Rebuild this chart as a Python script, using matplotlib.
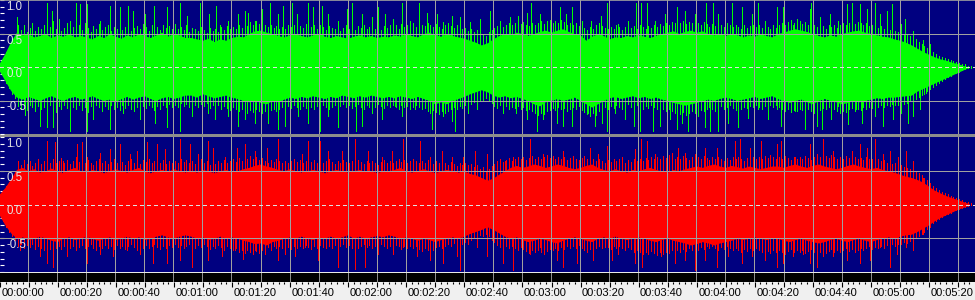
import matplotlib
matplotlib.use("Agg")
import matplotlib.pyplot as plt
import numpy as np
from matplotlib.transforms import blended_transform_factory, offset_copy
from matplotlib.patches import Rectangle

# ---------------- data ----------------
BODY_STEP = 2.0   # seconds between envelope samples of the dense core
PEAK_STEP = 1.0   # seconds between per-second peak readings (values in percent of full scale)

GREEN_BODY_UP = [0.05, 0.2, 0.38,
    0.52, 0.48, 0.5, 0.45, 0.47, 0.5, 0.44, 0.48, 0.46, 0.5, 0.45, 0.47,
    0.45, 0.42, 0.47, 0.44, 0.5, 0.46, 0.43, 0.48, 0.45, 0.5, 0.47, 0.44, 0.48, 0.52, 0.46, 0.5, 0.48, 0.44,
    0.44, 0.42, 0.4, 0.43, 0.38, 0.42, 0.4, 0.44, 0.46, 0.45, 0.5, 0.54, 0.55, 0.52, 0.5, 0.47, 0.45, 0.48,
    0.5, 0.47, 0.45, 0.48, 0.5, 0.46, 0.44, 0.47, 0.45, 0.43, 0.46, 0.48, 0.45, 0.47, 0.44, 0.46,
    0.45, 0.48, 0.46, 0.5, 0.47, 0.45, 0.5, 0.52, 0.48, 0.46, 0.5, 0.47, 0.45, 0.43, 0.4, 0.37, 0.33, 0.36,
    0.42, 0.47, 0.5, 0.48, 0.52, 0.5, 0.47, 0.5, 0.53, 0.55, 0.52, 0.55, 0.57, 0.53, 0.5,
    0.48, 0.4, 0.46, 0.5, 0.47, 0.42, 0.45, 0.44, 0.47, 0.45, 0.48, 0.46, 0.44, 0.47, 0.5, 0.52, 0.54,
    0.5, 0.53, 0.55, 0.52, 0.54, 0.5, 0.48, 0.5, 0.47, 0.5, 0.48, 0.45, 0.48, 0.46, 0.5, 0.47, 0.45,
    0.5, 0.52, 0.55, 0.57, 0.55, 0.53, 0.5, 0.47, 0.45, 0.48, 0.46, 0.5, 0.52, 0.54, 0.55, 0.52, 0.5,
    0.48, 0.46, 0.45, 0.42, 0.4, 0.37, 0.33, 0.28, 0.23, 0.19, 0.15, 0.12, 0.1, 0.07, 0.05, 0.02, 0.0]

GREEN_BODY_DN = [-0.05, -0.2, -0.35,
    -0.45, -0.48, -0.44, -0.47, -0.5, -0.46, -0.43, -0.47, -0.5, -0.46, -0.44, -0.48,
    -0.46, -0.43, -0.47, -0.5, -0.48, -0.52, -0.47, -0.44, -0.48, -0.45, -0.43, -0.47, -0.5, -0.46, -0.44,
    -0.47, -0.45, -0.42,
    -0.42, -0.45, -0.4, -0.43, -0.46, -0.44, -0.42, -0.45, -0.47, -0.5, -0.52, -0.5, -0.53, -0.55, -0.5,
    -0.52, -0.48, -0.45, -0.47, -0.44, -0.46, -0.43, -0.45, -0.47, -0.44, -0.46, -0.42, -0.44, -0.46,
    -0.43, -0.45, -0.42, -0.44, -0.46,
    -0.44, -0.46, -0.43, -0.45, -0.47, -0.44, -0.47, -0.5, -0.55, -0.52, -0.55, -0.5, -0.47, -0.44, -0.4,
    -0.37, -0.34, -0.37, -0.42, -0.45, -0.43, -0.46, -0.44, -0.47, -0.5, -0.55, -0.58, -0.52, -0.5, -0.47,
    -0.5, -0.48, -0.45,
    -0.5, -0.55, -0.6, -0.55, -0.5, -0.46, -0.44, -0.47, -0.45, -0.43, -0.46, -0.44, -0.47, -0.45, -0.48,
    -0.5, -0.53, -0.55, -0.57, -0.55, -0.53, -0.5, -0.48, -0.5, -0.47, -0.45, -0.47, -0.5, -0.48, -0.46,
    -0.44, -0.47, -0.45, -0.43,
    -0.47, -0.5, -0.53, -0.5, -0.48, -0.52, -0.55, -0.5, -0.47, -0.5, -0.52, -0.55, -0.53, -0.5, -0.52,
    -0.5, -0.48, -0.46, -0.47, -0.45, -0.45, -0.44, -0.43, -0.42, -0.36, -0.32, -0.28, -0.24, -0.2, -0.16,
    -0.12, -0.08, -0.04, 0.0]

RED_BODY_UP = [0.15, 0.25, 0.38,
    0.52, 0.55, 0.5, 0.53, 0.48, 0.5, 0.54, 0.5, 0.47, 0.52, 0.55, 0.5, 0.48, 0.52, 0.5, 0.47, 0.5, 0.53,
    0.5, 0.48, 0.52, 0.55, 0.5, 0.47, 0.5, 0.52, 0.49, 0.53, 0.5, 0.48,
    0.5, 0.48, 0.52, 0.5, 0.47, 0.5, 0.52, 0.49, 0.5, 0.53, 0.55, 0.58, 0.6, 0.57, 0.55, 0.52, 0.5, 0.53,
    0.5, 0.48, 0.5, 0.52, 0.5, 0.47, 0.5, 0.52, 0.5, 0.48, 0.5, 0.52, 0.49, 0.5, 0.47, 0.5,
    0.5, 0.52, 0.55, 0.5, 0.48, 0.5, 0.53, 0.5, 0.47, 0.5, 0.52, 0.5, 0.48, 0.5, 0.46, 0.44, 0.4, 0.36,
    0.39, 0.45, 0.5, 0.55, 0.58, 0.55, 0.57, 0.6, 0.58, 0.55, 0.57, 0.6, 0.58, 0.55, 0.53,
    0.55, 0.58, 0.6, 0.55, 0.52, 0.5, 0.53, 0.5, 0.48, 0.52, 0.5, 0.53, 0.55, 0.52, 0.5, 0.48, 0.52,
    0.5, 0.53, 0.55, 0.57, 0.55, 0.58, 0.6, 0.57, 0.55, 0.58, 0.56, 0.54, 0.57, 0.55, 0.53, 0.55, 0.57,
    0.57, 0.55, 0.58, 0.6, 0.57, 0.55, 0.58, 0.6, 0.57, 0.55, 0.53, 0.55, 0.58, 0.6, 0.57, 0.55, 0.53,
    0.55, 0.52, 0.5, 0.48, 0.45, 0.42, 0.4, 0.37, 0.33, 0.27, 0.21, 0.17, 0.13, 0.1, 0.07, 0.04, 0.01]

RED_BODY_DN = [-0.15, -0.3, -0.42,
    -0.5, -0.48, -0.52, -0.5, -0.47, -0.5, -0.53, -0.55, -0.5, -0.48, -0.52, -0.5, -0.47, -0.5, -0.53,
    -0.5, -0.48, -0.52, -0.5, -0.47, -0.5, -0.48, -0.52, -0.5, -0.47, -0.45, -0.48, -0.5, -0.47, -0.45,
    -0.47, -0.5, -0.48, -0.52, -0.5, -0.47, -0.5, -0.48, -0.5, -0.53, -0.55, -0.58, -0.57, -0.6, -0.55,
    -0.53, -0.5, -0.48, -0.5, -0.47, -0.5, -0.52, -0.48, -0.5, -0.47, -0.5, -0.48, -0.45, -0.5, -0.47,
    -0.5, -0.48, -0.46, -0.48,
    -0.45, -0.47, -0.5, -0.48, -0.5, -0.53, -0.5, -0.52, -0.55, -0.52, -0.5, -0.48, -0.5, -0.47, -0.43,
    -0.4, -0.37, -0.33, -0.37, -0.42, -0.47, -0.5, -0.48, -0.52, -0.55, -0.53, -0.5, -0.52, -0.55, -0.57,
    -0.53, -0.5, -0.48,
    -0.5, -0.53, -0.55, -0.5, -0.48, -0.5, -0.47, -0.5, -0.52, -0.5, -0.48, -0.5, -0.53, -0.55, -0.52,
    -0.5, -0.53, -0.55, -0.57, -0.6, -0.58, -0.55, -0.57, -0.6, -0.57, -0.55, -0.53, -0.5, -0.52, -0.5,
    -0.48, -0.5, -0.52, -0.5,
    -0.5, -0.53, -0.55, -0.52, -0.5, -0.53, -0.55, -0.57, -0.55, -0.52, -0.5, -0.53, -0.55, -0.52, -0.5,
    -0.53, -0.55, -0.52, -0.5, -0.48, -0.5, -0.47, -0.45, -0.44, -0.4, -0.35, -0.3, -0.24, -0.19, -0.15,
    -0.11, -0.07, -0.04, -0.01]

# per-second peak readings, percent of full scale
GREEN_PEAK_UP = [
    5, 12, 22, 30, 40, 46, 62, 55, 63, 52, 58, 66, 54, 60, 57, 63, 55, 59, 68, 56,
    61, 54, 58, 65, 53, 60, 57, 62, 55, 66, 58, 52, 61, 57, 64, 55, 59, 62, 54, 60,
    57, 63, 55, 60, 66, 54, 58, 61, 56, 64, 59, 53, 62, 57, 60, 55, 63, 58, 61, 56,
    64, 57, 60, 55, 62, 52, 58, 56, 53, 60, 55, 51, 58, 54, 57, 52, 59, 55, 61, 57,
    60, 56, 63, 58, 65, 61, 67, 63, 68, 64, 66, 62, 60, 63, 58, 61, 57, 60, 56, 62,
    59, 63, 57, 61, 58, 64, 56, 60, 62, 57, 63, 59, 55, 61, 58, 56, 60, 54, 58, 62,
    57, 60, 55, 61, 58, 63, 56, 59, 62, 57, 60, 55, 61, 58, 63, 59, 62, 57, 64, 60,
    62, 58, 65, 60, 57, 63, 61, 66, 62, 59, 64, 60, 57, 62, 65, 61, 58, 63, 59, 56,
    58, 54, 57, 52, 55, 48, 50, 46, 52, 55, 58, 61, 64, 60, 63, 66, 62, 65, 61, 64,
    67, 63, 61, 65, 62, 66, 68, 64, 67, 70, 65, 68, 66, 70, 67, 63, 66, 62, 65, 61,
    63, 58, 55, 60, 57, 62, 65, 61, 58, 56, 60, 57, 62, 59, 55, 60, 63, 58, 61, 57,
    62, 59, 56, 61, 58, 63, 60, 64, 61, 66, 63, 67, 65, 62, 66, 68, 64, 67, 65, 62,
    66, 63, 67, 64, 60, 64, 61, 58, 63, 60, 65, 62, 59, 63, 60, 57, 62, 58, 61, 63,
    59, 62, 58, 64, 60, 57, 62, 58, 63, 66, 62, 67, 70, 66, 71, 68, 64, 67, 63, 66,
    62, 60, 58, 61, 57, 63, 59, 62, 58, 63, 66, 62, 65, 68, 64, 67, 65, 62, 65, 61,
    63, 60, 58, 61, 57, 59, 55, 58, 54, 52, 55, 50, 48, 46, 45, 42, 38, 35, 31, 28,
    25, 22, 19, 17, 15, 14, 12, 11, 9, 8, 6, 5, 4, 2, 1, 0]

GREEN_PEAK_DN = [
    -5, -14, -24, -32, -40, -46, -58, -62, -55, -64, -57, -60, -66, -58, -62, -59, -64, -56, -61, -67,
    -58, -63, -56, -61, -66, -59, -62, -57, -64, -60, -67, -58, -62, -56, -60, -65, -58, -62, -57, -63,
    -59, -64, -57, -61, -56, -62, -66, -60, -63, -58, -61, -56, -60, -64, -58, -62, -57, -60, -55, -59,
    -56, -60, -54, -58, -55, -59, -53, -57, -60, -55, -58, -54, -61, -57, -60, -56, -62, -58, -61, -64,
    -60, -63, -66, -62, -65, -68, -64, -67, -63, -66, -69, -65, -68, -64, -62, -66, -63, -60, -62, -58,
    -61, -57, -60, -63, -58, -61, -56, -60, -62, -58, -61, -57, -60, -63, -59, -56, -60, -58, -55, -59,
    -57, -61, -58, -55, -59, -62, -57, -60, -56, -59, -55, -58, -61, -57, -60, -56, -59, -62, -57, -60,
    -58, -62, -59, -56, -60, -63, -61, -65, -68, -64, -67, -70, -66, -69, -65, -62, -60, -63, -58, -61,
    -57, -60, -55, -52, -55, -49, -50, -46, -51, -54, -58, -61, -57, -60, -58, -62, -59, -61, -58, -63,
    -60, -64, -62, -66, -69, -72, -68, -70, -66, -64, -61, -64, -60, -63, -61, -65, -62, -59, -62, -58,
    -64, -67, -70, -73, -68, -71, -66, -63, -60, -62, -58, -61, -57, -60, -62, -58, -55, -59, -61, -57,
    -60, -62, -58, -61, -57, -60, -63, -59, -62, -65, -63, -66, -68, -65, -70, -67, -71, -68, -66, -69,
    -67, -64, -66, -62, -60, -63, -65, -61, -58, -62, -60, -57, -61, -64, -60, -63, -59, -61, -58, -60,
    -57, -60, -62, -58, -61, -56, -59, -57, -60, -63, -65, -62, -67, -64, -66, -62, -64, -67, -63, -66,
    -69, -66, -64, -61, -63, -60, -64, -62, -66, -68, -65, -67, -63, -61, -65, -62, -64, -60, -62, -59,
    -61, -58, -60, -57, -59, -56, -58, -55, -57, -56, -54, -55, -53, -51, -50, -48, -45, -42, -40, -36,
    -33, -30, -27, -24, -21, -18, -15, -13, -11, -9, -7, -5, -3, -2, -1, 0]

RED_PEAK_UP = [
    16, 22, 28, 34, 42, 48, 63, 58, 66, 60, 64, 57, 62, 68, 60, 65, 70, 62, 67, 61,
    64, 69, 62, 66, 60, 65, 70, 63, 67, 61, 66, 62, 59, 64, 68, 62, 65, 60, 63, 67,
    61, 66, 63, 59, 64, 68, 62, 65, 60, 66, 63, 67, 61, 64, 69, 62, 66, 60, 64, 61,
    65, 62, 68, 63, 66, 61, 64, 60, 63, 67, 61, 64, 59, 63, 60, 65, 61, 66, 62, 64,
    67, 63, 69, 65, 71, 67, 72, 68, 70, 66, 69, 65, 62, 66, 63, 67, 64, 61, 65, 62,
    64, 67, 63, 66, 61, 65, 68, 63, 66, 62, 65, 61, 64, 67, 63, 60, 64, 62, 66, 63,
    61, 65, 62, 66, 63, 60, 64, 61, 65, 62, 59, 63, 66, 62, 65, 61, 64, 67, 63, 66,
    62, 65, 68, 64, 61, 65, 62, 66, 63, 60, 64, 61, 65, 62, 59, 63, 60, 57, 61, 58,
    62, 58, 60, 56, 58, 52, 55, 50, 53, 57, 60, 64, 67, 63, 66, 69, 65, 68, 71, 67,
    70, 66, 69, 72, 68, 71, 67, 70, 73, 69, 72, 68, 71, 67, 70, 66, 69, 72, 68, 66,
    69, 72, 68, 71, 67, 64, 68, 65, 62, 66, 63, 67, 64, 68, 65, 62, 66, 63, 67, 64,
    68, 65, 69, 66, 70, 67, 71, 68, 72, 69, 73, 70, 67, 71, 68, 72, 69, 66, 70, 67,
    71, 68, 72, 69, 66, 70, 67, 71, 68, 65, 69, 66, 70, 67, 71, 68, 65, 69, 66, 70,
    67, 71, 68, 72, 69, 73, 70, 67, 71, 68, 72, 69, 66, 70, 67, 71, 68, 72, 69, 66,
    70, 67, 71, 68, 72, 69, 73, 70, 67, 71, 68, 72, 69, 66, 70, 67, 69, 66, 70, 67,
    68, 65, 67, 64, 66, 62, 64, 60, 62, 58, 59, 56, 54, 52, 50, 48, 46, 43, 40, 36,
    32, 28, 25, 22, 19, 17, 15, 13, 11, 9, 8, 6, 4, 3, 2, 0]

RED_PEAK_DN = [
    -16, -24, -33, -40, -46, -52, -62, -58, -65, -60, -63, -58, -66, -61, -64, -68, -62, -66, -60, -64,
    -61, -66, -62, -58, -64, -61, -67, -63, -60, -65, -62, -59, -64, -67, -62, -65, -60, -64, -62, -66,
    -60, -64, -61, -66, -62, -59, -63, -67, -61, -64, -60, -65, -62, -58, -63, -66, -61, -64, -60, -63,
    -59, -63, -60, -64, -61, -58, -62, -65, -60, -63, -59, -62, -66, -61, -64, -60, -63, -67, -62, -65,
    -68, -64, -70, -67, -72, -68, -71, -74, -69, -72, -68, -65, -63, -67, -62, -65, -61, -64, -60, -63,
    -66, -62, -65, -61, -64, -60, -63, -66, -61, -64, -60, -63, -65, -61, -64, -60, -58, -62, -59, -63,
    -60, -64, -61, -65, -62, -58, -63, -60, -64, -61, -63, -59, -62, -65, -61, -64, -60, -62, -66, -61,
    -64, -61, -65, -62, -66, -69, -65, -68, -64, -67, -63, -61, -65, -62, -58, -61, -57, -60, -56, -59,
    -55, -58, -53, -50, -48, -45, -47, -43, -47, -52, -56, -60, -63, -59, -62, -65, -61, -64, -67, -63,
    -66, -69, -72, -68, -71, -67, -70, -73, -69, -66, -68, -64, -67, -63, -66, -62, -65, -61, -64, -60,
    -64, -67, -70, -66, -63, -65, -61, -64, -60, -63, -66, -62, -65, -61, -64, -67, -63, -66, -70, -67,
    -71, -74, -70, -73, -69, -72, -75, -71, -74, -70, -72, -68, -71, -67, -70, -66, -69, -65, -68, -64,
    -67, -63, -66, -62, -65, -61, -64, -67, -63, -66, -62, -65, -68, -64, -67, -70, -66, -69, -65, -68,
    -64, -67, -70, -66, -69, -72, -68, -71, -67, -70, -73, -69, -66, -70, -67, -71, -68, -72, -69, -66,
    -70, -67, -71, -68, -72, -69, -66, -70, -67, -71, -68, -65, -69, -66, -70, -67, -64, -68, -65, -62,
    -66, -63, -65, -62, -64, -60, -62, -59, -61, -58, -59, -56, -57, -54, -52, -49, -46, -43, -40, -36,
    -32, -28, -25, -21, -18, -16, -14, -12, -10, -8, -7, -5, -3, -2, -1, 0]

GREEN_SPIKE_UP_T = [6.3, 16.4, 18.1, 20.8, 24.4, 26.5, 27.9, 30.4, 34.8, 38.2, 41.6, 44.5, 46.0, 50.2, 53.3,
    57.7, 62.3, 64.6, 69.2, 72.3, 74.6, 76.1, 78.9, 82.4, 84.7, 85.8, 88.1, 90.4, 93.3, 96.1, 97.9, 100.7,
    102.4, 106.4, 108.2, 111.0, 113.3, 116.8, 119.6, 121.4, 124.8, 128.2, 130.3, 132.8, 135.7, 138.6, 141.4,
    144.6, 147.2, 150.6, 152.9, 155.8, 158.6, 162.1, 165.5, 169.0, 172.4, 175.8, 178.7, 181.6, 183.0, 186.2,
    188.5, 193.1, 195.3, 197.1, 200.5, 203.9, 207.2, 209.1, 213.1, 216.6, 219.1, 220.9, 222.9, 225.7, 229.2,
    233.2, 236.1, 239.5, 243.2, 245.8, 247.5, 249.8, 252.1, 255.6, 259.0, 261.3, 263.6, 267.6, 269.9, 273.3,
    279.1, 279.6, 282.5, 286.0, 288.8, 291.7, 293.4, 296.3, 298.8, 301.4, 303.2, 305.5, 307.5, 310.3, 311.8,
    314.6, 318.1, 320.4]
GREEN_SPIKE_UP_V = [0.75, 0.96, 0.84, 0.72, 0.69, 0.96, 0.94, 0.94, 0.69, 0.91, 0.89, 0.91, 0.84, 0.79, 0.91,
    0.89, 0.96, 0.76, 0.96, 0.79, 0.91, 0.62, 0.69, 0.79, 0.84, 0.81, 0.69, 0.86, 0.96, 0.79, 0.91, 0.96,
    0.79, 0.96, 0.89, 0.91, 0.79, 0.69, 0.86, 0.96, 0.79, 0.74, 0.89, 0.79, 0.72, 0.96, 0.69,
    0.96, 0.81, 0.79, 0.67, 0.76, 0.74, 0.67, 0.72, 0.84, 0.69, 0.74, 0.76, 0.81, 0.96, 0.79,
    0.69, 0.89, 0.79, 0.89, 0.69, 0.69, 0.76, 0.96, 0.64, 0.69, 0.96, 0.96, 0.96, 0.69, 0.79,
    0.89, 0.84, 0.79, 0.96, 0.96, 0.79, 0.89, 0.96, 0.89, 0.79, 0.96, 0.69, 0.89, 0.89, 0.62,
    0.86, 0.96, 0.74, 0.79, 0.69, 0.94, 0.96, 0.94, 0.86, 0.96, 0.79, 0.84, 0.94, 0.64, 0.72,
    0.54, 0.40, 0.35]

GREEN_SPIKE_DN_T = [8.9, 14.1, 16.4, 18.7, 24.4, 30.4, 32.5, 38.2, 42.8, 48.5, 53.7, 57.7, 62.3, 66.3,
    68.6, 72.0, 74.3, 78.9, 82.4, 84.7, 88.1, 92.7, 96.1, 98.4, 103.0, 106.4, 110.5, 113.3, 116.8, 120.2,
    122.7, 124.8, 128.2, 131.7, 136.3, 138.6, 143.2, 148.9, 152.9, 155.8, 156.9, 161.5, 164.4, 170.1, 173.6,
    178.1, 181.6, 185.0, 187.3, 191.9, 194.2, 197.1, 202.8, 205.1, 207.4, 209.1, 212.0, 215.4, 218.6, 220.6,
    225.2, 227.5, 230.9, 233.2, 234.9, 237.2, 240.6, 243.0, 244.7, 247.5, 251.0, 254.4, 257.9, 261.3, 264.7,
    267.6, 269.3, 273.9, 277.4, 280.2, 281.4, 283.1, 286.5, 288.8, 292.3, 295.1, 296.9, 301.4, 304.3, 307.8,
    310.6, 312.9, 314.6, 316.9, 319.2]
GREEN_SPIKE_DN_V = [-0.71, -0.88, -0.90, -0.90, -0.95, -0.95, -0.78, -0.93, -0.68, -0.78, -0.83, -0.90, -0.95, -0.73,
    -0.58, -0.68, -0.78, -0.73, -0.88, -0.78, -0.83, -0.83, -0.93, -0.88, -0.73, -0.83, -0.95, -0.73, -0.90, -0.83,
    -0.95, -0.88, -0.68, -0.78, -0.58, -0.73, -0.63, -0.93, -0.73, -0.80, -0.95, -0.68, -0.63, -0.83, -0.68,
    -0.68, -0.78, -0.95, -0.78, -0.83, -0.88, -0.88, -0.68, -0.88, -0.83, -0.95, -0.68, -0.78, -0.88, -0.95,
    -0.95, -0.88, -0.78, -0.93, -0.83, -0.95, -0.73, -0.90, -0.95, -0.95, -0.83, -0.90, -0.76, -0.63, -0.78,
    -0.63, -0.88, -0.66, -0.93, -0.78, -0.88, -0.93, -0.78, -0.58, -0.85, -0.63, -0.83, -0.73, -0.88, -0.78,
    -0.68, -0.83, -0.73, -0.63, -0.39]

RED_SPIKE_UP_T = [6.7, 16.4, 19.3, 22.1, 26.7, 28.4, 30.4, 34.8, 38.2, 41.6, 45.1, 47.4, 50.8, 54.3, 57.1, 62.3, 65.7,
    68.6, 72.0, 73.8, 77.8, 81.8, 84.7, 88.1, 92.1, 96.1, 100.1, 104.2, 106.4, 110.5, 113.3, 117.9, 122.5, 127.1, 131.7,
    135.1, 139.1, 144.9, 148.3, 152.3, 155.8, 159.8, 163.8, 167.8, 172.4, 174.1, 177.0, 182.7, 187.3, 190.8, 194.2, 197.6,
    203.4, 206.2, 209.1, 214.3, 218.9, 220.9, 222.9, 225.7, 231.5, 233.8, 236.1, 239.5, 243.0, 247.0, 249.8, 253.3,
    255.0, 258.4, 262.4, 267.6,
    269.3, 273.9, 279.1, 281.4, 283.7, 287.1, 290.0, 293.4, 296.3, 298.6, 301.4, 304.3, 306.6, 309.5, 312.3, 314.6,
    318.1, 320.4]
RED_SPIKE_UP_V = [0.65, 0.94, 0.92, 0.65, 0.89, 0.92, 0.70, 0.77, 0.82, 0.89, 0.75, 0.79, 0.92, 0.89, 0.82, 0.97, 0.89,
    0.75, 0.94, 0.84, 0.70, 0.84, 0.89, 0.79, 0.84, 0.97, 0.94, 0.75, 0.94, 0.94, 0.79, 0.79, 0.97, 0.79, 0.70,
    0.79, 0.97, 0.94, 0.70, 0.79, 0.70, 0.70, 0.79, 0.75, 0.65, 0.65, 0.70, 0.97, 0.75, 0.70, 0.79, 0.70,
    0.84, 0.75, 0.87, 0.70, 0.82, 0.97, 0.94, 0.75, 0.77, 0.84, 0.77, 0.75, 0.84, 0.84, 0.94, 0.94,
    0.97, 0.84, 0.94, 0.89,
    0.94, 0.70, 0.89, 0.75, 0.97, 0.79, 0.84, 0.79, 0.89, 0.84, 0.97, 0.75, 0.79, 0.70, 0.79, 0.65,
    0.40, 0.30]

RED_SPIKE_DN_T = [7.2, 14.1, 16.4, 18.7, 23.3, 30.2, 34.8, 39.3, 43.9, 48.5, 53.1, 57.7, 62.3, 66.3,
    69.7, 72.0, 76.6, 81.2, 84.1, 88.1, 91.5, 96.1, 98.4, 101.9, 105.3, 109.9, 116.8, 122.5, 126.0, 130.5,
    135.7, 139.1, 143.7, 148.3, 152.9, 157.5, 158.6, 164.4, 167.8, 173.6, 177.0, 182.7, 186.2, 191.9, 194.2, 198.8,
    204.5, 208.5, 210.8, 213.1, 218.9, 221.2, 228.0, 232.6, 236.1, 239.5, 243.0, 247.0, 251.0, 255.6, 259.0, 263.6, 267.6,
    269.9, 273.3, 276.8, 279.1, 281.4, 283.7, 287.1, 291.7, 296.3, 299.7, 303.2, 306.6, 308.9, 312.3, 314.6, 318.1, 320.4]
RED_SPIKE_DN_V = [-0.68, -0.77, -0.87, -0.92, -0.77, -0.87, -0.73, -0.77, -0.68, -0.73, -0.87, -0.87, -0.82, -0.92,
    -0.63, -0.82, -0.77, -0.68, -0.80, -0.68, -0.73, -0.82, -0.73, -0.77, -0.63, -0.82, -0.92, -0.95, -0.92, -0.73,
    -0.73, -0.63, -0.77, -0.82, -0.87, -0.77, -0.97, -0.63, -0.77, -0.87, -0.97, -0.73, -0.63, -0.82, -0.92, -0.87,
    -0.82, -0.63, -0.82, -0.73, -0.87, -0.92, -0.77, -0.87, -0.82, -0.97, -0.82, -0.92, -0.77, -0.87, -0.77, -0.82, -0.92,
    -0.87, -0.77, -0.73, -0.87, -0.92, -0.77, -0.77, -0.82, -0.87, -0.82, -0.63, -0.92, -0.73, -0.63, -0.68, -0.43, -0.33]

TIME_LABEL_SECS = [0, 20, 40, 60, 80, 100, 120, 140, 160, 180, 200, 220, 240, 260, 280, 300, 320]
TIME_LABELS = ["00:00:00", "00:00:20", "00:00:40", "00:01:00", "00:01:20", "00:01:40", "00:02:00",
               "00:02:20", "00:02:40", "00:03:00", "00:03:20", "00:03:40", "00:04:00", "00:04:20",
               "00:04:40", "00:05:00", "00:05:20"]
AMP_LABEL_VALUES = [1.0, 0.5, 0.0, -0.5]
AMP_LABELS = ["1.0", "0.5", "0.0", "-0.5"]

# ---------------- style ----------------
BG = "#000080"
GRID = "#a0a0a0"
GREEN = "#00ff00"
RED = "#ff0000"
XMIN, XMAX = 0.34, 335.9
FONT = "Liberation Sans"
PX = 0.72  # one pixel in points at 100 dpi

W, H = 975, 300
fig = plt.figure(figsize=(W / 100, H / 100), dpi=100, facecolor="#8c8c8c")


def frac_box(top_px, bottom_px):
    return [0, 1 - bottom_px / H, 1, (bottom_px - top_px) / H]


ax_top = fig.add_axes(frac_box(0, 134))
ax_bot = fig.add_axes(frac_box(137, 272))
ax_band = fig.add_axes(frac_box(273, 282))
ax_rule = fig.add_axes(frac_box(282, 300))
fig.patches.append(Rectangle((0, 1 - 273 / H), 1, 1 / H, transform=fig.transFigure,
                             facecolor="#e8e8e8", edgecolor="none"))


def draw_channel(ax, ylim, body_up, body_dn, peak_up, peak_dn, sp_up_t, sp_up_v, sp_dn_t, sp_dn_v, color):
    ax.set_facecolor(BG)
    ax.set_xlim(XMIN, XMAX)
    ax.set_ylim(*ylim)
    for s in ax.spines.values():
        s.set_visible(False)
    n = min(len(body_up), len(body_dn))
    t = np.arange(n) * BODY_STEP
    ax.fill_between(t, np.array(body_dn[:n]), np.array(body_up[:n]), color=color, lw=0, zorder=2)
    tp = np.arange(len(peak_up)) * PEAK_STEP + 0.5
    ax.vlines(tp, 0, np.array(peak_up) / 100.0, color=color, lw=PX, antialiased=False, zorder=2)
    tp = np.arange(len(peak_dn)) * PEAK_STEP + 0.5
    ax.vlines(tp, 0, np.array(peak_dn) / 100.0, color=color, lw=PX, antialiased=False, zorder=2)
    m = min(len(sp_up_t), len(sp_up_v))
    ax.vlines(sp_up_t[:m], 0, sp_up_v[:m], color=color, lw=PX, antialiased=False, zorder=2)
    m = min(len(sp_dn_t), len(sp_dn_v))
    ax.vlines(sp_dn_t[:m], 0, sp_dn_v[:m], color=color, lw=PX, antialiased=False, zorder=2)
    # grid
    for g in np.arange(10, XMAX, 10):
        ax.axvline(g, color=GRID, lw=PX, antialiased=False, zorder=4)
    for g in (0.5, -0.5):
        ax.axhline(g, color=GRID, lw=PX, antialiased=False, zorder=4)
    ax.axhline(0.0, color="#e0e0e0", lw=PX, ls=(0, (4, 4)), antialiased=False, zorder=5)
    # ticks
    ax.set_xticks([])
    ax.set_yticks([-1.0, -0.5, 0.0, 0.5, 1.0])
    ax.set_yticks(np.arange(-1.0, 1.01, 0.1), minor=True)
    ax.tick_params(axis="y", which="both", direction="in", colors="white", labelleft=False,
                   length=3, width=0.8)
    tr = offset_copy(blended_transform_factory(ax.transAxes, ax.transData), fig=fig, x=6.5, y=-1, units="dots")
    for v, lab in zip(AMP_LABEL_VALUES, AMP_LABELS):
        ax.text(0, v, lab, transform=tr, ha="left", va="top", color="#e4e4e4",
                fontsize=8.3, family=FONT, zorder=6)


draw_channel(ax_top, (-0.985, 0.985), GREEN_BODY_UP, GREEN_BODY_DN, GREEN_PEAK_UP, GREEN_PEAK_DN,
             GREEN_SPIKE_UP_T, GREEN_SPIKE_UP_V, GREEN_SPIKE_DN_T, GREEN_SPIKE_DN_V, GREEN)
ax_top.spines["top"].set_visible(True)
ax_top.spines["top"].set_color(GRID)
ax_top.spines["top"].set_linewidth(1.2)

draw_channel(ax_bot, (-1.0, 0.985), RED_BODY_UP, RED_BODY_DN, RED_PEAK_UP, RED_PEAK_DN,
             RED_SPIKE_UP_T, RED_SPIKE_UP_V, RED_SPIKE_DN_T, RED_SPIKE_DN_V, RED)

# black band under the waveforms
ax_band.set_facecolor("black")
ax_band.set_xlim(XMIN, XMAX)
ax_band.set_ylim(0, 1)
ax_band.set_xticks([])
ax_band.set_yticks([])
for s in ax_band.spines.values():
    s.set_visible(False)
for g in np.arange(10, XMAX, 10):
    ax_band.axvline(g, color="#909090", lw=PX, antialiased=False)

# time ruler
ax_rule.set_facecolor("#f0f0f0")
ax_rule.set_xlim(XMIN, XMAX)
ax_rule.set_ylim(0, 1)
for s in ax_rule.spines.values():
    s.set_visible(False)
ax_rule.set_yticks([])
ax_rule.set_xticks(np.arange(0, XMAX, 10))
ax_rule.set_xticks(np.arange(0, XMAX, 2), minor=True)
ax_rule.tick_params(axis="x", which="major", top=True, bottom=False, direction="in",
                    length=3.4, width=0.8, color="black", labelbottom=False, labeltop=False)
ax_rule.tick_params(axis="x", which="minor", top=True, bottom=False, direction="in",
                    length=1.4, width=0.8, color="black")
trl = offset_copy(blended_transform_factory(ax_rule.transData, ax_rule.transAxes), fig=fig, x=1.5, y=0, units="dots")
for s, lab in zip(TIME_LABEL_SECS, TIME_LABELS):
    ax_rule.text(s, 0.4, lab, transform=trl, ha="left", va="center", fontsize=8,
                 family=FONT, color="black")

fig.savefig("out.png", dpi=100, facecolor=fig.get_facecolor())
